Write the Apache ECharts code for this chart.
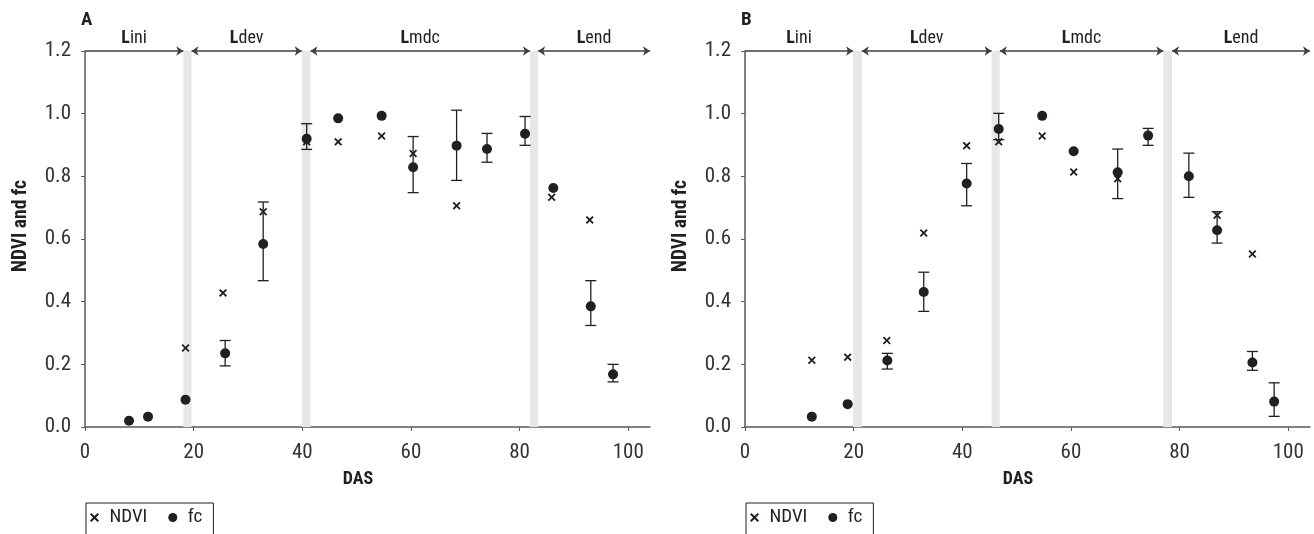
<!DOCTYPE html>
<html>
<head>
<meta charset="utf-8">
<script src="https://cdn.jsdelivr.net/npm/echarts@6/dist/echarts.min.js"></script>
<style>
html,body{margin:0;padding:0;background:#fff;}
#chart{width:1314px;height:534px;}
</style>
</head>
<body>
<div id="chart"></div>
<script>
// ---------- DATA ----------
const xTicks = [0, 20, 40, 60, 80, 100];
const yTicks = [0, 0.2, 0.4, 0.6, 0.8, 1.0, 1.2];
const panelLabels = ['A', 'B'];
const yTitle = 'NDVI and fc';
const xTitle = 'DAS';
const stageNames = [['L', 'ini'], ['L', 'dev'], ['L', 'mdc'], ['L', 'end']];

// Panel A
const ndviA_x = [18.5, 25.4, 32.8, 40.8, 46.6, 54.6, 60.4, 68.4, 85.9, 92.9];
const ndviA_y = [0.252, 0.428, 0.687, 0.91, 0.91, 0.929, 0.873, 0.706, 0.733, 0.661];
const fcA_x  = [8.1, 11.6, 18.5, 25.8, 32.8, 40.8, 46.6, 54.6, 60.4, 68.4, 74.0, 81.0, 86.2, 93.1, 97.2];
const fcA_y  = [0.02, 0.033, 0.087, 0.235, 0.584, 0.92, 0.985, 0.993, 0.829, 0.898, 0.887, 0.936, 0.763, 0.385, 0.168];
const fcA_lo = [null, null, null, 0.195, 0.467, 0.886, null, null, 0.748, 0.787, 0.845, 0.899, null, 0.324, 0.144];
const fcA_hi = [null, null, null, 0.276, 0.718, 0.968, null, null, 0.927, 1.011, 0.937, 0.991, null, 0.467, 0.200];
const bandsA = [[18.1, 19.6], [39.9, 41.5], [81.9, 83.4]];

// Panel B
const ndviB_x = [12.3, 18.9, 26.1, 32.9, 40.8, 46.7, 54.7, 60.5, 68.6, 86.9, 93.4];
const ndviB_y = [0.213, 0.223, 0.276, 0.619, 0.898, 0.91, 0.929, 0.814, 0.792, 0.676, 0.552];
const fcB_x  = [12.3, 18.9, 26.2, 32.9, 40.8, 46.7, 54.7, 60.5, 68.6, 74.2, 81.7, 86.9, 93.4, 97.4];
const fcB_y  = [0.033, 0.073, 0.212, 0.431, 0.777, 0.951, 0.993, 0.88, 0.813, 0.93, 0.8, 0.628, 0.206, 0.081];
const fcB_lo = [null, null, 0.185, 0.369, 0.706, 0.917, null, null, 0.729, 0.899, 0.733, 0.587, 0.181, 0.034];
const fcB_hi = [null, null, 0.235, 0.494, 0.841, 1.001, null, null, 0.887, 0.953, 0.874, 0.687, 0.241, 0.141];
const bandsB = [[19.9, 21.5], [45.4, 46.9], [77.0, 78.6]];

const xMax = 104;
const yMax = 1.2;

// ---------- STYLE ----------
const FONT = "'Roboto Condensed', 'DejaVu Sans Condensed', sans-serif";
const INK = '#231f20';
const AXIS = '#58595b';
const crossPath = 'path://M0,1.6L1.6,0L5,3.4L8.4,0L10,1.6L6.6,5L10,8.4L8.4,10L5,6.6L1.6,10L0,8.4L3.4,5Z';

const zip = (xs, ys) => xs.map((x, i) => [x, ys[i]]);
const errRows = (xs, lo, hi) => xs.map((x, i) => [x, lo[i], hi[i]]).filter(r => r[1] != null);

function renderErr(params, api) {
  const x = api.value(0), lo = api.value(1), hi = api.value(2);
  const p1 = api.coord([x, lo]), p2 = api.coord([x, hi]);
  const w = 5.5;
  const style = { stroke: INK, lineWidth: 1.3 };
  return {
    type: 'group',
    children: [
      { type: 'line', shape: { x1: p1[0], y1: p1[1], x2: p2[0], y2: p2[1] }, style },
      { type: 'line', shape: { x1: p1[0] - w, y1: p1[1], x2: p1[0] + w, y2: p1[1] }, style },
      { type: 'line', shape: { x1: p2[0] - w, y1: p2[1], x2: p2[0] + w, y2: p2[1] }, style }
    ]
  };
}

function stageLines(bands) {
  const edges = [[0, bands[0][0]], [bands[0][1], bands[1][0]], [bands[1][1], bands[2][0]], [bands[2][1], xMax]];
  return edges.map((e, i) => [
    { coord: [e[0], yMax], symbol: i === 0 ? 'none' : 'arrow',
      label: { formatter: '{b|' + stageNames[i][0] + '}{n|' + stageNames[i][1] + '}' } },
    { coord: [e[1], yMax], symbol: 'arrow' }
  ]);
}

function panelSeries(idx, nx, ny, fx, fy, flo, fhi, bands) {
  return [
    {
      type: 'scatter', name: 'stages' + idx, xAxisIndex: idx, yAxisIndex: idx,
      data: [], silent: true, z: 1,
      markArea: {
        silent: true,
        itemStyle: { color: '#e6e7e8' },
        data: bands.map(b => [{ xAxis: b[0] }, { xAxis: b[1] }])
      },
      markLine: {
        silent: true,
        symbolSize: 7,
        lineStyle: { color: '#414042', width: 1.5, type: 'solid' },
        label: {
          show: true, position: 'insideMiddleTop', distance: 4,
          color: INK, fontFamily: FONT,
          rich: {
            b: { fontWeight: 'bold', fontSize: 18, fontFamily: FONT, color: INK },
            n: { fontSize: 18, fontFamily: FONT, color: INK }
          }
        },
        emphasis: { disabled: true },
        data: stageLines(bands)
      }
    },
    {
      type: 'custom', name: 'err' + idx, xAxisIndex: idx, yAxisIndex: idx,
      renderItem: renderErr, encode: { x: 0, y: [1, 2] },
      data: errRows(fx, flo, fhi), z: 3, silent: true
    },
    {
      type: 'scatter', name: 'NDVI', xAxisIndex: idx, yAxisIndex: idx,
      symbol: crossPath, symbolSize: 8,
      itemStyle: { color: INK, opacity: 1 },
      data: zip(nx, ny), z: 4
    },
    {
      type: 'scatter', name: 'fc', xAxisIndex: idx, yAxisIndex: idx,
      symbol: 'circle', symbolSize: 10,
      itemStyle: { color: INK, opacity: 1 },
      data: zip(fx, fy), z: 5
    }
  ];
}

function xAxis(idx) {
  return {
    type: 'value', gridIndex: idx, min: 0, max: xMax, interval: 20,
    name: xTitle, nameLocation: 'middle', nameGap: 43,
    nameTextStyle: { fontFamily: FONT, fontWeight: 'bold', fontSize: 18, color: INK, padding: [0, 19, 0, 0] },
    axisLine: { show: true, lineStyle: { color: AXIS, width: 1.5 } },
    axisTick: { show: true, inside: false, length: 4, lineStyle: { color: AXIS }, customValues: xTicks },
    axisLabel: { fontFamily: FONT, fontSize: 21, color: '#333', margin: 15, customValues: xTicks,
      formatter: v => (xTicks.indexOf(v) >= 0 ? String(v) : '') },
    splitLine: { show: false }
  };
}
function yAxis(idx) {
  return {
    type: 'value', gridIndex: idx, min: 0, max: yMax, interval: 0.2,
    axisLine: { show: true, lineStyle: { color: AXIS, width: 1.5 } },
    axisTick: { show: true, inside: false, length: 4, lineStyle: { color: AXIS } },
    axisLabel: { fontFamily: FONT, fontSize: 21, color: '#333', margin: 14, formatter: v => v.toFixed(1) },
    splitLine: { show: false }
  };
}

function legend(left) {
  return {
    left: left, top: 503, orient: 'horizontal',
    itemWidth: 20, itemHeight: 9, itemGap: 21,
    padding: [5, 11, 12, 4],
    borderColor: INK, borderWidth: 1, borderRadius: 0,
    selectedMode: false,
    textStyle: { fontFamily: FONT, fontSize: 19, color: INK },
    data: [{ name: 'NDVI', icon: crossPath, itemStyle: { color: INK } },
           { name: 'fc', icon: 'circle', itemStyle: { color: INK } }]
  };
}

function yTitleText(x) {
  return {
    type: 'text', x: x, y: 226, rotation: Math.PI / 2, silent: true,
    style: { text: yTitle, fill: INK, font: 'bold 19.5px ' + FONT, textAlign: 'center', textVerticalAlign: 'middle' }
  };
}

const option = {
  animation: false,
  backgroundColor: '#fff',
  title: [
    { text: panelLabels[0], left: 81, top: 11, padding: 0, textStyle: { fontFamily: FONT, fontWeight: 'bold', fontSize: 19, color: INK } },
    { text: panelLabels[1], left: 741, top: 11, padding: 0, textStyle: { fontFamily: FONT, fontWeight: 'bold', fontSize: 19, color: INK } }
  ],
  grid: [
    { left: 85, top: 51, width: 565, height: 376, containLabel: false },
    { left: 745, top: 51, width: 565, height: 376, containLabel: false }
  ],
  xAxis: [xAxis(0), xAxis(1)],
  yAxis: [yAxis(0), yAxis(1)],
  legend: [legend(86), legend(746)],
  graphic: [yTitleText(21), yTitleText(681)],
  series: [
    ...panelSeries(0, ndviA_x, ndviA_y, fcA_x, fcA_y, fcA_lo, fcA_hi, bandsA),
    ...panelSeries(1, ndviB_x, ndviB_y, fcB_x, fcB_y, fcB_lo, fcB_hi, bandsB)
  ]
};

const chart = echarts.init(document.getElementById('chart'), null, { renderer: 'canvas' });
chart.setOption(option);
</script>
</body>
</html>
